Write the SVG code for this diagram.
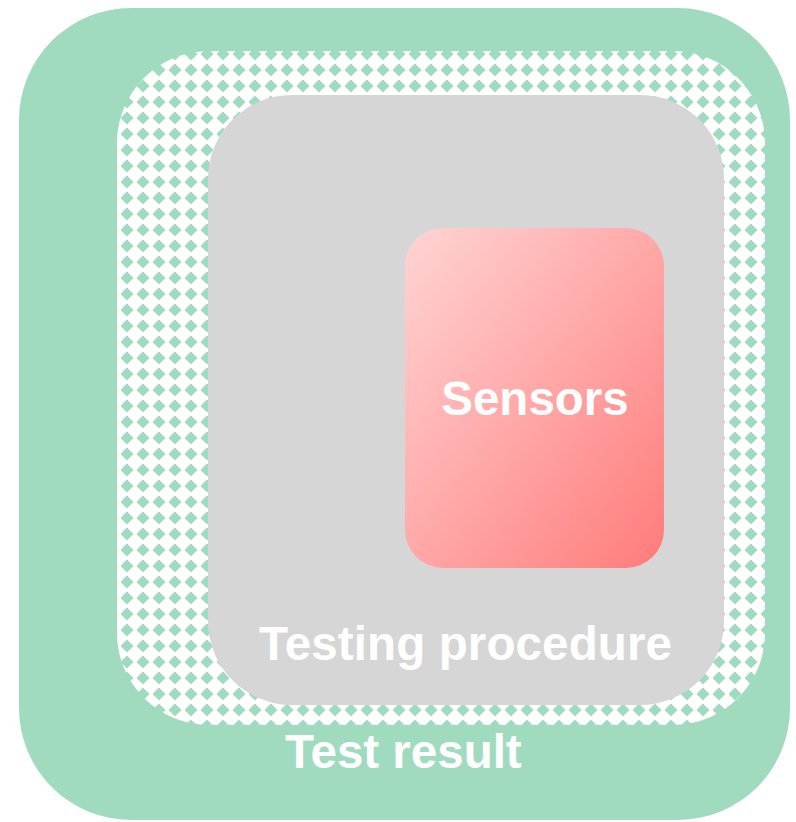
<svg xmlns="http://www.w3.org/2000/svg" width="796" height="822" viewBox="0 0 796 822">
<defs>
<pattern id="diam" patternUnits="userSpaceOnUse" x="7" y="-2" width="16" height="16">
<rect width="16" height="16" fill="#ffffff"/>
<path d="M8 1.5 L14.5 8 L8 14.5 L1.5 8 Z" fill="#a0dbc0"/>
</pattern>
<linearGradient id="sg" x1="0" y1="0" x2="1" y2="1">
<stop offset="0" stop-color="#ffd4d4"/>
<stop offset="1" stop-color="#ff7b7b"/>
</linearGradient>
<style>
.lbl{font-family:"Liberation Sans",Arial,sans-serif;font-weight:bold;font-size:47.5px;fill:#ffffff}
</style>
</defs>
<g id="test-result">
<rect x="19" y="8" width="771" height="812" rx="112" ry="112" fill="#a0dbc0"/>
<text class="lbl" x="285" y="768">Test result</text>
</g>
<g id="pattern-area">
<rect x="117" y="51" width="648" height="674" rx="92" ry="92" fill="url(#diam)"/>
</g>
<g id="testing-procedure">
<rect x="208" y="95" width="516" height="610" rx="84" ry="84" fill="#d6d6d6"/>
<text class="lbl" x="259" y="660" textLength="413">Testing procedure</text>
</g>
<g id="sensors">
<rect x="405" y="228" width="259" height="340" rx="38" ry="38" fill="url(#sg)"/>
<text class="lbl" x="535" y="415" text-anchor="middle">Sensors</text>
</g>
<g id="connectors"></g>
</svg>
